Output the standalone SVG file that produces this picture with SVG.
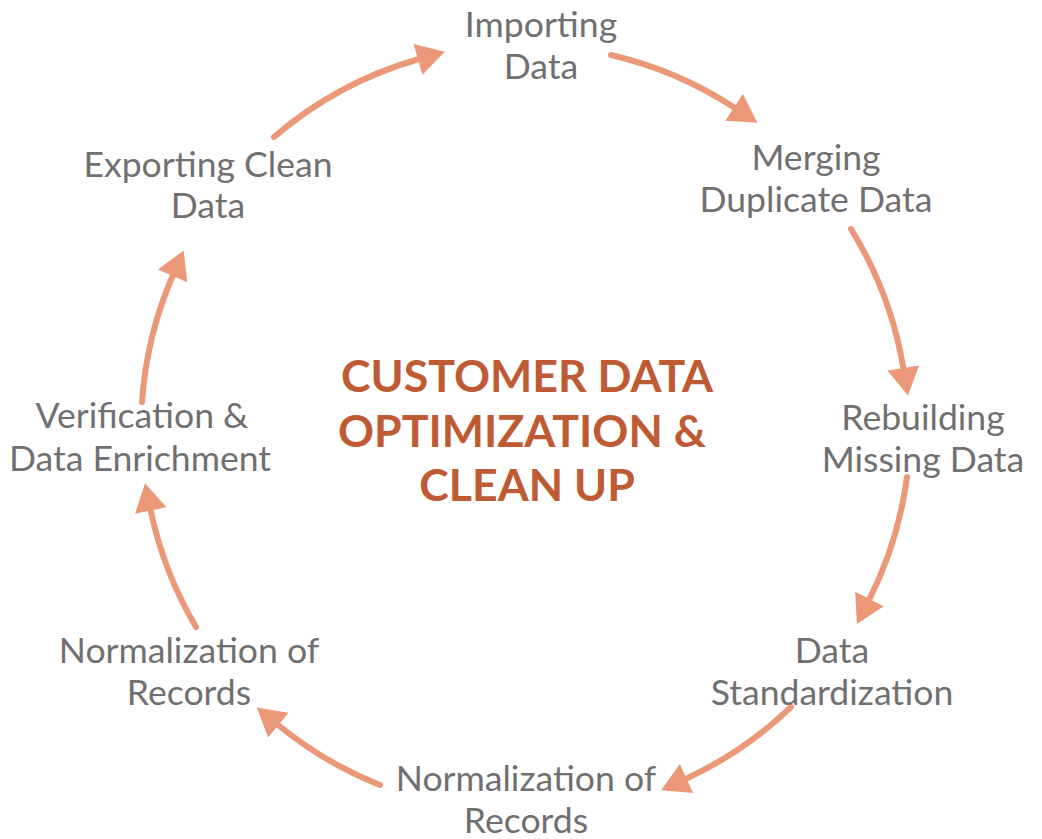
<svg xmlns="http://www.w3.org/2000/svg" width="1042" height="839" viewBox="0 0 1042 839">
<style>
.lbl{font-family:Lato,"Open Sans",sans-serif;font-size:35.6px;fill:#707070;text-anchor:middle}
.title{font-family:Lato,"Open Sans",sans-serif;font-size:44.7px;font-weight:bold;fill:#BE5B34;text-anchor:middle}
.arc{fill:none;stroke:#EB9878;stroke-width:6;stroke-linecap:round}
</style>
<defs>
<marker id="ah" markerUnits="userSpaceOnUse" markerWidth="30" markerHeight="32" refX="1" refY="15.5" orient="auto" viewBox="0 0 28 31">
<path d="M0,0 L27,15.5 L0,31 z" fill="#EB9878"/>
</marker>
</defs>
<rect width="1042" height="839" fill="#ffffff"/>
<g id="connectors">
<path class="arc" marker-end="url(#ah)" d="M274,137 A385,385 0 0 1 419,59"/>
<path class="arc" marker-end="url(#ah)" d="M611,55 A385,385 0 0 1 735,108"/>
<path class="arc" marker-end="url(#ah)" d="M851,229 A385,385 0 0 1 903.5,369"/>
<path class="arc" marker-end="url(#ah)" d="M907,477 A385,385 0 0 1 869,600"/>
<path class="arc" marker-end="url(#ah)" d="M791,707 A385,385 0 0 1 685.5,779"/>
<path class="arc" marker-end="url(#ah)" d="M380,785 A385,385 0 0 1 277.5,724.5"/>
<path class="arc" marker-end="url(#ah)" d="M196,627 A385,385 0 0 1 150.5,509.5"/>
<path class="arc" marker-end="url(#ah)" d="M142,402 A385,385 0 0 1 173,275"/>
</g>
<g id="title"><text class="title"><tspan x="527" y="392">CUSTOMER DATA</tspan><tspan x="522" y="447">OPTIMIZATION &amp;</tspan><tspan x="527" y="501">CLEAN UP</tspan></text></g>
<g id="importing"><text class="lbl"><tspan x="541" y="37">Importing</tspan><tspan x="541" y="79">Data</tspan></text></g>
<g id="merging"><text class="lbl"><tspan x="816" y="170">Merging</tspan><tspan x="816" y="212">Duplicate Data</tspan></text></g>
<g id="rebuilding"><text class="lbl"><tspan x="923" y="430">Rebuilding</tspan><tspan x="923" y="472">Missing Data</tspan></text></g>
<g id="standardization"><text class="lbl"><tspan x="832" y="663">Data</tspan><tspan x="832" y="705">Standardization</tspan></text></g>
<g id="normalization-bottom"><text class="lbl"><tspan x="526" y="791">Normalization of</tspan><tspan x="526" y="833">Records</tspan></text></g>
<g id="normalization-left"><text class="lbl"><tspan x="189" y="663">Normalization of</tspan><tspan x="189" y="705">Records</tspan></text></g>
<g id="verification"><text class="lbl"><tspan x="142" y="428">Verification &amp;</tspan><tspan x="140" y="471">Data Enrichment</tspan></text></g>
<g id="exporting"><text class="lbl"><tspan x="208" y="177">Exporting Clean</tspan><tspan x="208" y="218">Data</tspan></text></g>
</svg>
